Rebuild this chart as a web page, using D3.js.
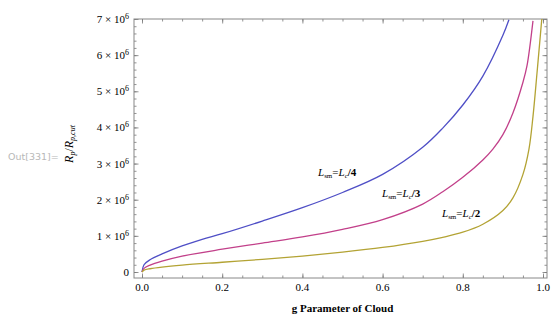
<!DOCTYPE html>
<html>
<head>
<meta charset="utf-8">
<script src="https://cdn.jsdelivr.net/npm/d3@7"></script>
<style>
  body { margin: 0; background: #fff; }
  text { font-family: "Liberation Serif", "DejaVu Serif", serif; }
</style>
</head>
<body>
<div id="chart"></div>
<script>
// g parameter values and R_p/R_p,cut (in units of 10^6)
var gQuarter = [0, 0.005, 0.02, 0.05, 0.1, 0.15, 0.2, 0.3, 0.4, 0.5, 0.6, 0.7, 0.75, 0.8, 0.85, 0.9, 0.915]
var vQuarter = [0, 0.2, 0.34, 0.5, 0.72, 0.9, 1.06, 1.41, 1.78, 2.2, 2.7, 3.45, 3.98, 4.62, 5.42, 6.55, 6.98]

var gThird = [0, 0.005, 0.02, 0.05, 0.1, 0.2, 0.3, 0.4, 0.5, 0.6, 0.7, 0.75, 0.8, 0.85, 0.875, 0.9, 0.925, 0.95, 0.96, 0.975]
var vThird = [0, 0.1, 0.19, 0.3, 0.44, 0.63, 0.8, 0.97, 1.18, 1.45, 1.88, 2.22, 2.62, 3.1, 3.4, 3.8, 4.4, 5.25, 5.7, 6.95]

var gHalf = [0, 0.005, 0.02, 0.1, 0.2, 0.3, 0.4, 0.5, 0.6, 0.7, 0.75, 0.8, 0.85, 0.9, 0.925, 0.95, 0.965, 0.975, 0.985, 0.993, 0.997]
var vHalf = [0, 0.05, 0.09, 0.19, 0.27, 0.35, 0.44, 0.55, 0.68, 0.85, 0.96, 1.1, 1.32, 1.7, 2.05, 2.7, 3.4, 4.3, 5.5, 6.5, 7]

var xTicks = [0, 0.2, 0.4, 0.6, 0.8, 1.0]
var yTicks = [0, 1, 2, 3, 4, 5, 6, 7]
var seriesNames = ["4", "3", "2"]
var seriesColors = ["#4f4fc6", "#c2408a", "#b3a334"]

var width = 551, height = 320

var x = d3.scaleLinear().domain([0, 1]).range([142, 543])
var y = d3.scaleLinear().domain([0, 7]).range([272, 19])

var frame = {left: 134, right: 547, top: 19, bottom: 278}

var svg = d3.select("#chart").append("svg")
  .attr("width", width)
  .attr("height", height)

// clip to frame
svg.append("clipPath")
  .attr("id", "clip")
  .append("rect")
  .attr("x", frame.left)
  .attr("y", frame.top)
  .attr("width", frame.right - frame.left)
  .attr("height", frame.bottom - frame.top)

var xMinor = d3.range(0, 1.0001, 0.05)
var yMinor = d3.range(0, 7.0001, 0.2)

// ticks on all four sides of the frame, pointing inward
function tickAxis(axis, vals, size, tr) {
  var g = svg.append("g")
    .attr("transform", tr)
    .call(axis.tickValues(vals).tickSize(size).tickFormat(""))
  g.select(".domain").remove()
  g.selectAll("line").attr("stroke", "#777").attr("stroke-width", 0.8)
  return g
}
tickAxis(d3.axisBottom(x), xMinor, -2.5, "translate(0," + frame.bottom + ")")
tickAxis(d3.axisBottom(x), xTicks, -4.5, "translate(0," + frame.bottom + ")")
tickAxis(d3.axisTop(x), xMinor, -2.5, "translate(0," + frame.top + ")")
tickAxis(d3.axisTop(x), xTicks, -4.5, "translate(0," + frame.top + ")")
tickAxis(d3.axisLeft(y), yMinor, -2.5, "translate(" + frame.left + ",0)")
tickAxis(d3.axisLeft(y), yTicks, -4.5, "translate(" + frame.left + ",0)")
tickAxis(d3.axisRight(y), yMinor, -2.5, "translate(" + frame.right + ",0)")
tickAxis(d3.axisRight(y), yTicks, -4.5, "translate(" + frame.right + ",0)")

svg.append("rect")
  .attr("x", frame.left)
  .attr("y", frame.top)
  .attr("width", frame.right - frame.left)
  .attr("height", frame.bottom - frame.top)
  .attr("fill", "none")
  .attr("stroke", "#888")
  .attr("stroke-width", 1)

// x tick labels
svg.append("g").selectAll("text")
  .data(xTicks)
  .enter().append("text")
  .attr("x", function(d) { return x(d) })
  .attr("y", 291)
  .attr("text-anchor", "middle")
  .attr("font-size", 11)
  .text(function(d) { return d3.format(".1f")(d) })

// y tick labels like 7 × 10^6
var yl = svg.append("g").selectAll("text")
  .data(yTicks)
  .enter().append("text")
  .attr("x", 129)
  .attr("y", function(d) { return y(d) + 4 })
  .attr("text-anchor", "end")
  .attr("font-size", 11)
yl.each(function(d) {
  var t = d3.select(this)
  if (d === 0) { t.text("0"); return }
  t.append("tspan").text(d + " \u00d7 10")
  t.append("tspan").attr("dy", -4).attr("font-size", 8).text("6")
})

// curves
var line = d3.line()
  .x(function(d) { return x(d[0]) })
  .y(function(d) { return y(d[1]) })
  .curve(d3.curveCatmullRom.alpha(0.5))

var series = [d3.zip(gQuarter, vQuarter), d3.zip(gThird, vThird), d3.zip(gHalf, vHalf)]

svg.append("g")
  .attr("clip-path", "url(#clip)")
  .selectAll("path")
  .data(series)
  .enter().append("path")
  .attr("d", line)
  .attr("fill", "none")
  .attr("stroke", function(d, i) { return seriesColors[i] })
  .attr("stroke-width", 1.3)

// curve labels
var labelPos = [[318, 176], [382, 197], [442, 217]]
seriesNames.forEach(function(n, i) {
  var t = svg.append("text")
    .attr("x", labelPos[i][0])
    .attr("y", labelPos[i][1])
    .attr("font-size", 11)
  t.append("tspan").attr("font-style", "italic").text("L")
  t.append("tspan").attr("font-size", 7).attr("dy", 2).text("sm")
  t.append("tspan").attr("dy", -2).text("=")
  t.append("tspan").attr("font-style", "italic").text("L")
  t.append("tspan").attr("font-size", 7).attr("dy", 2).attr("font-style", "italic").text("c")
  t.append("tspan").attr("dy", -2).attr("font-weight", "bold").text("/" + n)
})

// axis titles
svg.append("text")
  .attr("x", x(0.5))
  .attr("y", 312)
  .attr("text-anchor", "middle")
  .attr("font-size", 11)
  .attr("font-weight", "bold")
  .text("g Parameter of Cloud")

var yt = svg.append("text")
  .attr("transform", "translate(73,144) rotate(-90)")
  .attr("text-anchor", "middle")
  .attr("font-size", 12)
yt.append("tspan").attr("font-style", "italic").text("R")
yt.append("tspan").attr("font-size", 8).attr("dy", 2).attr("font-style", "italic").text("p")
yt.append("tspan").attr("dy", -2).text("/")
yt.append("tspan").attr("font-style", "italic").text("R")
yt.append("tspan").attr("font-size", 8).attr("dy", 2).attr("font-style", "italic").text("p,cut")

svg.append("text")
  .attr("x", 8)
  .attr("y", 160)
  .style("font-family", "'DejaVu Sans', sans-serif")
  .attr("font-size", 9.5)
  .attr("fill", "#b8b8b8")
  .text("Out[331]=")
</script>
</body>
</html>
